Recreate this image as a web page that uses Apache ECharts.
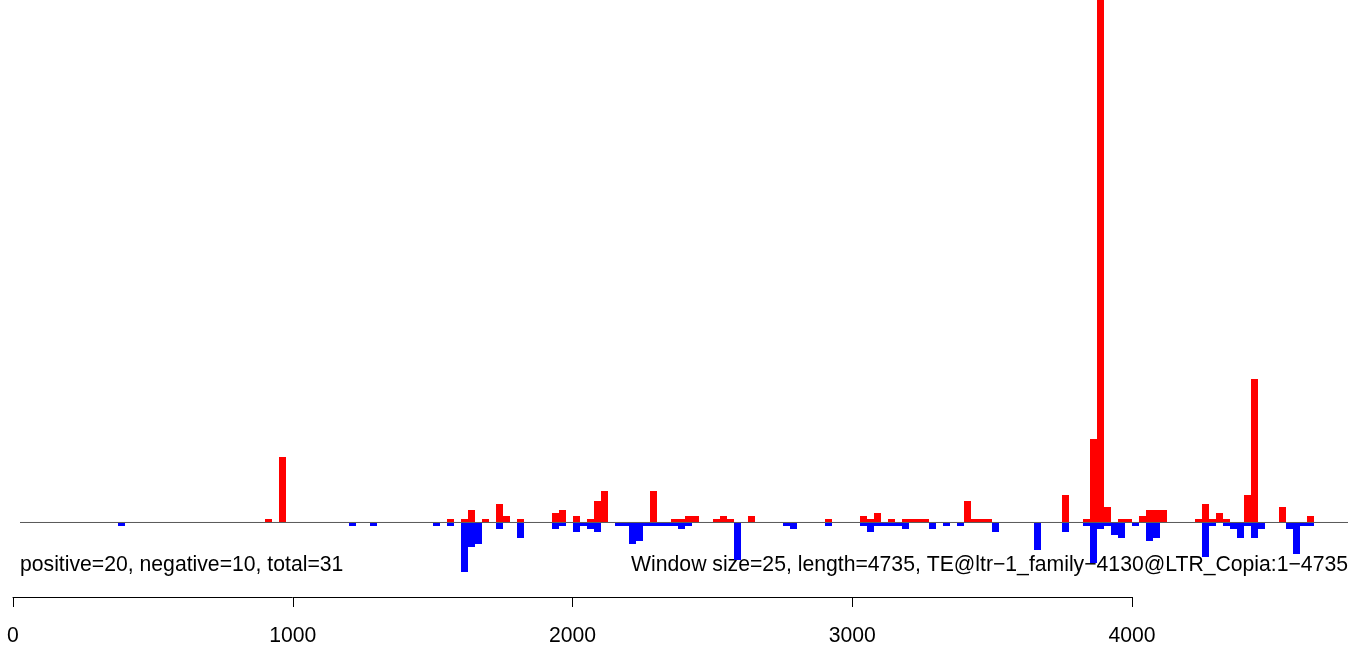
<!DOCTYPE html>
<html><head><meta charset="utf-8">
<script src="https://cdn.jsdelivr.net/npm/echarts@6/dist/echarts.min.js"></script>
<style>html,body{margin:0;padding:0;background:#fff}#c{width:1367px;height:647px}</style>
</head><body><div id="c"></div>
<script>
const windowSize = 25;
const seqLength = 4735;
// window indices (window k covers positions 25k+1 .. 25k+25) and counts
const posWindows = [36,38,62,64,65,67,69,70,72,77,78,80,82,83,84,91,94,95,96,97,100,101,102,105,116,121,122,123,125,127,128,129,130,136,137,138,139,150,153,154,155,156,158,159,161,162,163,164,169,170,171,172,173,176,177,181,185];
const posValues  = [1,21,1,1,4,1,6,2,1,3,4,2,1,7,10,10,1,1,2,2,1,2,1,2,1,2,1,3,1,1,1,1,1,7,1,1,1,9,1,27,180,5,1,1,2,4,4,4,1,6,1,3,1,9,46,5,2];
const negWindows = [15,48,51,60,62,64,65,66,69,72,77,78,80,81,82,83,86,87,88,89,90,91,92,93,94,95,96,103,110,111,116,121,122,123,124,125,126,127,131,133,135,140,146,150,153,154,155,156,157,158,160,162,163,170,171,173,174,175,176,177,178,182,183,184,185];
const negValues  = [1,1,1,1,1,16,8,7,2,5,2,1,3,1,2,3,1,1,7,6,1,1,1,1,1,2,1,12,1,2,1,1,3,1,1,1,1,2,2,1,1,3,9,3,1,13,2,1,4,5,1,6,5,11,1,1,2,5,1,5,2,2,10,1,1];
const xTicks = [0, 1000, 2000, 3000, 4000];
const baselineRange = [25, 4772];
const infoLeft = 'positive=20, negative=10, total=31';
const infoRight = 'Window size=25, length=4735, TE@ltr\u22121_family\u22124130@LTR_Copia:1\u22124735';

function toData(wins, vals, sign) {
  return wins.map((w, i) => [w * windowSize + 1, sign * vals[i]]);
}
function renderBar(params, api) {
  const s = api.value(0), v = api.value(1);
  const p0 = api.coord([s, 0]);
  const p1 = api.coord([s + windowSize, v]);
  const x0 = Math.round(p0[0]), x1 = Math.round(p1[0]);
  const y0 = v >= 0 ? Math.floor(p0[1]) : Math.ceil(p0[1]);
  const y1 = Math.round(p1[1]);
  const cs = params.coordSys;
  const rect = echarts.graphic.clipRectByRect(
    {x: x0, y: Math.min(y0, y1), width: x1 - x0, height: Math.abs(y1 - y0)},
    {x: cs.x, y: cs.y, width: cs.width, height: cs.height});
  return rect && {type: 'rect', shape: rect, style: {fill: api.visual('color')}};
}
const FONT = '"Liberation Sans", Arial, Helvetica, sans-serif';
const FS = 21.2;
const chart = echarts.init(document.getElementById('c'), null, {renderer: 'canvas'});
chart.setOption({
  animation: false,
  backgroundColor: '#ffffff',
  grid: [
    {left: 20, width: 1328, top: 0, height: 584.70},
    {left: 13, width: 1119, top: 596, height: 1}
  ],
  xAxis: [
    {gridIndex: 0, type: 'value', min: baselineRange[0], max: baselineRange[1], show: false},
    {gridIndex: 1, type: 'value', min: xTicks[0], max: xTicks[xTicks.length - 1], interval: 1000,
     position: 'bottom',
     axisLine: {show: true, lineStyle: {color: '#000', width: 1}},
     axisTick: {show: true, length: 10, inside: false, lineStyle: {color: '#000', width: 1}},
     axisLabel: {show: true, color: '#000', fontSize: FS, fontFamily: FONT, margin: 29,
       showMinLabel: true, showMaxLabel: true, formatter: (v) => String(v)},
     splitLine: {show: false}}
  ],
  yAxis: [
    {gridIndex: 0, type: 'value', min: -20, max: 168, show: false},
    {gridIndex: 1, type: 'value', min: 0, max: 1, show: false}
  ],
  series: [
    {type: 'custom', xAxisIndex: 0, yAxisIndex: 0, renderItem: renderBar,
     itemStyle: {color: '#ff0000'}, data: toData(posWindows, posValues, 1), z: 2},
    {type: 'custom', xAxisIndex: 0, yAxisIndex: 0, renderItem: renderBar,
     itemStyle: {color: '#0000ff'}, data: toData(negWindows, negValues, -1), z: 2},
    {type: 'line', xAxisIndex: 0, yAxisIndex: 0, data: [[baselineRange[0], 0], [baselineRange[1], 0]],
     symbol: 'none', lineStyle: {color: '#595959', width: 1}, z: 3, silent: true},
    {type: 'line', xAxisIndex: 1, yAxisIndex: 1, data: [], symbol: 'none'}
  ],
  graphic: [
    {type: 'text', x: 20, y: 565, silent: true,
     style: {text: infoLeft, fill: '#000', font: FS + 'px ' + FONT, align: 'left', verticalAlign: 'middle',
             textAlign: 'left', textVerticalAlign: 'middle'}},
    {type: 'text', x: 1348, y: 565, silent: true,
     style: {text: infoRight, fill: '#000', font: FS + 'px ' + FONT, align: 'right', verticalAlign: 'middle',
             textAlign: 'right', textVerticalAlign: 'middle'}}
  ]
});
</script>
</body></html>
